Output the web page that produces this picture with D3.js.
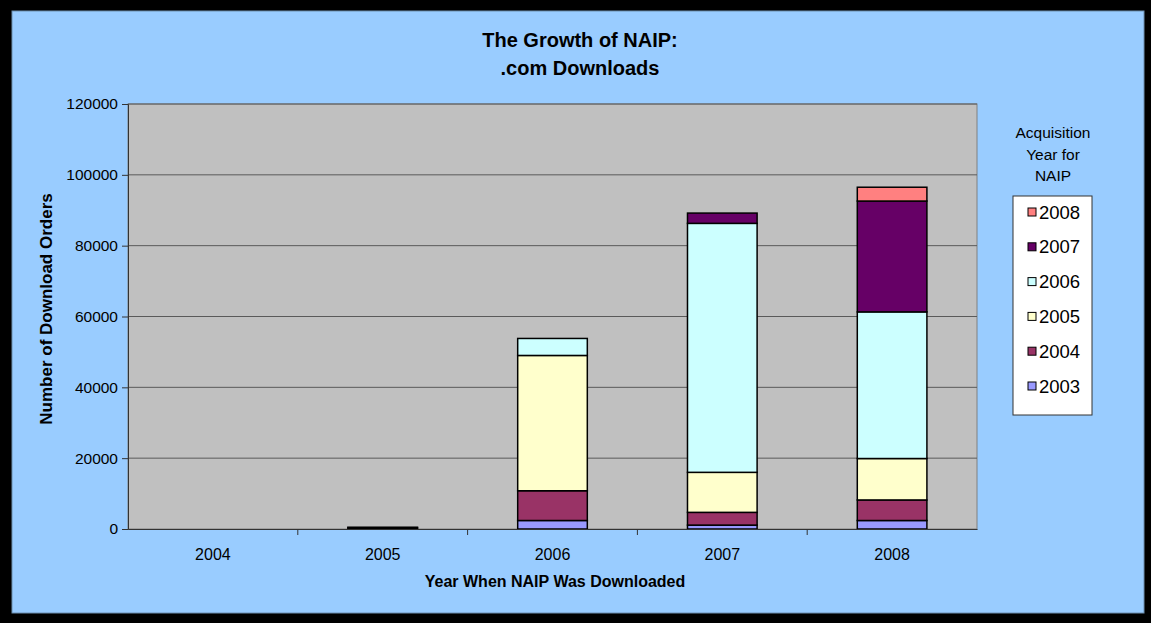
<!DOCTYPE html>
<html>
<head>
<meta charset="utf-8">
<script src="https://cdn.jsdelivr.net/npm/d3@7"></script>
<style>
  html, body { margin: 0; padding: 0; background: #000; }
  svg { display: block; font-family: "Liberation Sans", Arial, sans-serif; }
</style>
</head>
<body>
<svg id="chart" width="1151" height="623"></svg>
<script>
// ---- data ----
const downloadYears = ["2004", "2005", "2006", "2007", "2008"];
const acquisitionYears = ["2003", "2004", "2005", "2006", "2007", "2008"];
const acq2003 = [0, 300, 2400, 1100, 2400];
const acq2004 = [0, 200, 8400, 3600, 5800];
const acq2005 = [0, 0, 38200, 11300, 11700];
const acq2006 = [0, 0, 4800, 70300, 41400];
const acq2007 = [0, 0, 0, 2900, 31300];
const acq2008 = [0, 0, 0, 0, 3900];
const yTicks = [0, 20000, 40000, 60000, 80000, 100000, 120000];
const seriesColors = ["#9999FF", "#993366", "#FFFFCC", "#CCFFFF", "#660066", "#FF8080"];

const seriesValues = [acq2003, acq2004, acq2005, acq2006, acq2007, acq2008];
const rows = downloadYears.map((y, i) => {
  const r = { year: y };
  acquisitionYears.forEach((a, j) => r[a] = seriesValues[j][i]);
  return r;
});

const svg = d3.select("#chart");
// background & frame
svg.append("rect").attr("x", 0).attr("y", 0).attr("width", 1151).attr("height", 623).attr("fill", "#000");
svg.append("rect").attr("x", 12).attr("y", 11).attr("width", 1132).attr("height", 602)
  .attr("fill", "#99CCFF").attr("stroke", "#6d8fb0").attr("stroke-width", 1);

const plot = { left: 128, right: 977, top: 104, bottom: 529 };

const x = d3.scaleBand().domain(downloadYears).range([plot.left, plot.right]).paddingInner(0.59).paddingOuter(0.295);
const xb = d3.scaleBand().domain(downloadYears).range([plot.left, plot.right]);
const y = d3.scaleLinear().domain([0, 120000]).range([plot.bottom, plot.top]);

// plot area
svg.append("rect").attr("x", plot.left).attr("y", plot.top)
  .attr("width", plot.right - plot.left).attr("height", plot.bottom - plot.top)
  .attr("fill", "#C0C0C0").attr("stroke", "#808080").attr("stroke-width", 1);

// gridlines
svg.append("g").selectAll("line").data(yTicks.filter(t => t > 0)).join("line")
  .attr("x1", plot.left).attr("x2", plot.right)
  .attr("y1", d => y(d)).attr("y2", d => y(d))
  .attr("stroke", "#5a5a5a").attr("stroke-width", 1);

// stacked bars
const stack = d3.stack().keys(acquisitionYears);
const stacked = stack(rows);
const color = d3.scaleOrdinal().domain(acquisitionYears).range(seriesColors);

svg.append("g").selectAll("g").data(stacked).join("g")
  .attr("fill", d => color(d.key))
  .selectAll("rect").data(d => d.filter(v => v[1] - v[0] > 0)).join("rect")
  .attr("x", d => x(d.data.year))
  .attr("width", x.bandwidth())
  .attr("y", d => y(d[1]))
  .attr("height", d => y(d[0]) - y(d[1]))
  .attr("stroke", "#000").attr("stroke-width", 1.5);

// y axis
const yAxis = d3.axisLeft(y).tickValues(yTicks).tickSize(6).tickPadding(4).tickFormat(d3.format("d"));
const gy = svg.append("g").attr("transform", `translate(${plot.left},0)`).call(yAxis);
gy.select(".domain").attr("stroke", "#333");
gy.selectAll(".tick line").attr("stroke", "#333");
gy.selectAll("text").attr("font-size", 15.5).attr("fill", "#000").attr("font-family", "Liberation Sans, Arial, sans-serif");

// x axis
const xAxis = d3.axisBottom(xb).tickSize(0).tickPadding(20);
const gx = svg.append("g").attr("transform", `translate(0,${plot.bottom})`).call(xAxis);
gx.select(".domain").attr("stroke", "#333");
gx.selectAll("text").attr("font-size", 16).attr("fill", "#000").attr("font-family", "Liberation Sans, Arial, sans-serif");
// category separator ticks
svg.append("g").selectAll("line").data(downloadYears.slice(1)).join("line")
  .attr("x1", d => xb(d)).attr("x2", d => xb(d))
  .attr("y1", plot.bottom).attr("y2", plot.bottom + 6)
  .attr("stroke", "#333");

// titles
const title = svg.append("text").attr("text-anchor", "middle")
  .attr("font-size", 20).attr("font-weight", "bold").attr("fill", "#000");
title.append("tspan").attr("x", 580).attr("y", 47).text("The Growth of NAIP:");
title.append("tspan").attr("x", 580).attr("y", 75).text(".com Downloads");

svg.append("text").attr("x", 555).attr("y", 587).attr("text-anchor", "middle")
  .attr("font-size", 16).attr("font-weight", "bold").text("Year When NAIP Was Downloaded");

svg.append("text").attr("transform", "translate(52,309) rotate(-90)").attr("text-anchor", "middle")
  .attr("font-size", 17).attr("font-weight", "bold").text("Number of Download Orders");

// legend
const lt = svg.append("text").attr("text-anchor", "middle").attr("font-size", 15.5).attr("fill", "#000");
["Acquisition", "Year for", "NAIP"].forEach((s, i) => {
  lt.append("tspan").attr("x", 1053).attr("y", 138 + i * 21.5).text(s);
});
svg.append("rect").attr("x", 1013).attr("y", 196).attr("width", 79).attr("height", 219)
  .attr("fill", "#fff").attr("stroke", "#333").attr("stroke-width", 1);
const legendOrder = acquisitionYears.slice().reverse();
const li = svg.append("g").selectAll("g").data(legendOrder).join("g")
  .attr("transform", (d, i) => `translate(1028,${212 + i * 34.8})`);
li.append("rect").attr("x", 0).attr("y", -4).attr("width", 8).attr("height", 8)
  .attr("fill", d => color(d)).attr("stroke", "#000").attr("stroke-width", 1);
li.append("text").attr("x", 11).attr("y", 6.5).attr("font-size", 18.5).text(d => d);
</script>
</body>
</html>
